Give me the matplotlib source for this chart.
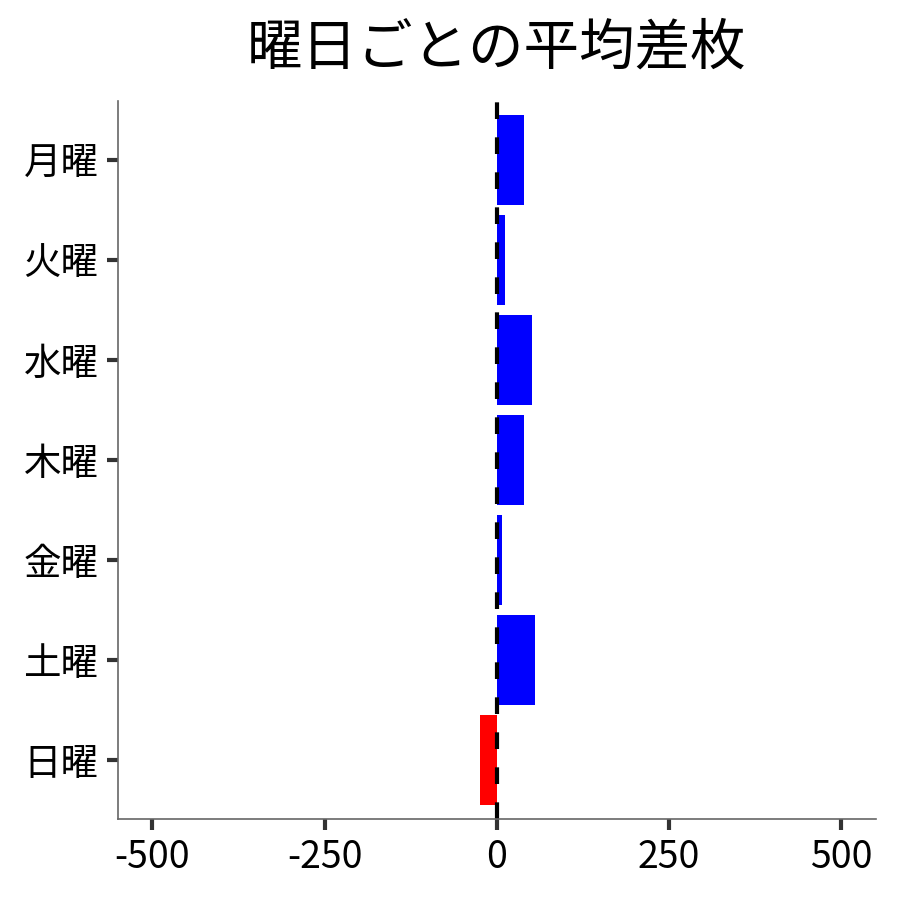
import matplotlib
matplotlib.use('Agg')
import matplotlib.pyplot as plt

plt.rcParams['font.family'] = ['Noto Sans CJK JP', 'DejaVu Sans']

# 曜日ごとの平均差枚
days = ['月曜', '火曜', '水曜', '木曜', '金曜', '土曜', '日曜']
avg_diff = [40, 12, 51, 40, 7, 56, -25]
x_ticks = [-500, -250, 0, 250, 500]

colors = ['#0000ff' if v >= 0 else '#ff0000' for v in avg_diff]

fig = plt.figure(figsize=(9, 9), dpi=100)
ax = fig.add_axes([0.131, 0.09, 0.842, 0.798])

ax.barh(days, avg_diff, height=0.9, color=colors)
ax.axvline(0, color='black', linestyle='--', linewidth=3, dashes=(4, 4.4))

ax.set_xlim(-550, 550)
ax.set_ylim(6.59, -0.59)
ax.set_xticks(x_ticks)
ax.set_xticklabels([str(t) for t in x_ticks])

ax.spines['top'].set_visible(False)
ax.spines['right'].set_visible(False)
for s in ['left', 'bottom']:
    ax.spines[s].set_color('#666666')
    ax.spines[s].set_linewidth(1.2)

ax.tick_params(axis='both', length=8, width=3, color='#333333',
               labelsize=27, pad=6)
ax.set_title('曜日ごとの平均差枚', fontsize=40, pad=26)

fig.savefig('out.png', dpi=100)
